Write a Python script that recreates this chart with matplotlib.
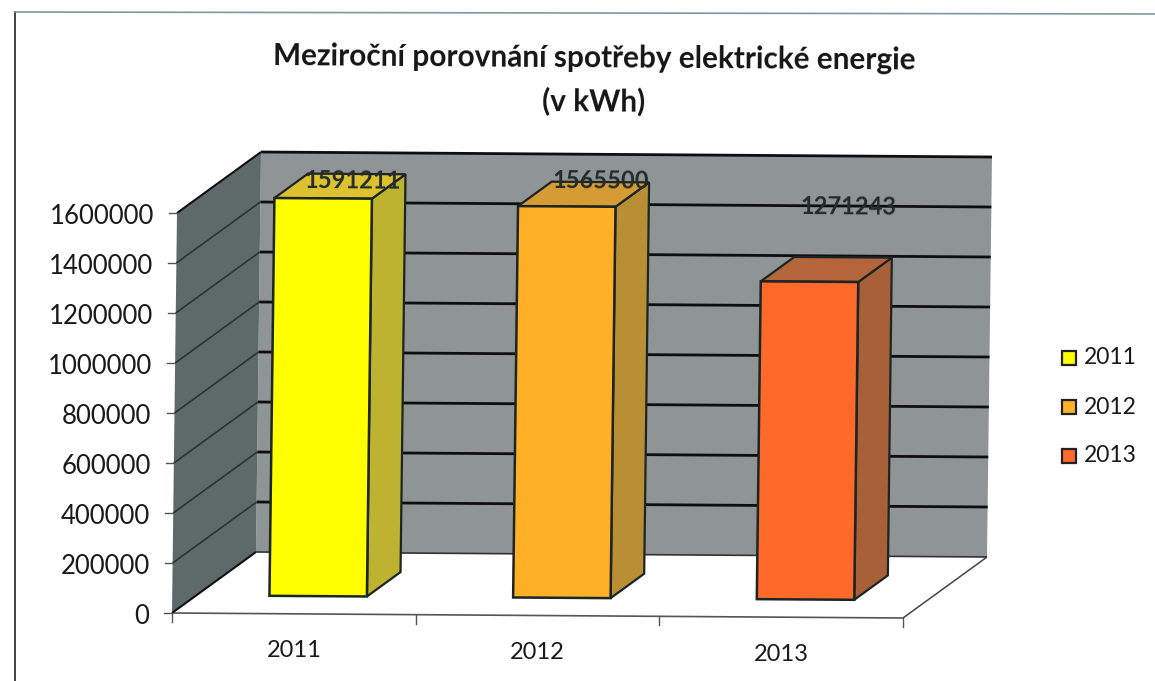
import numpy as np
import matplotlib
matplotlib.use('Agg')
import matplotlib.pyplot as plt
from matplotlib.patches import Polygon, Rectangle
from matplotlib.transforms import Affine2D, IdentityTransform

years = ['2011', '2012', '2013']
values = [1591211, 1565500, 1271243]
y_ticks = [0, 200000, 400000, 600000, 800000, 1000000, 1200000, 1400000, 1600000]
front_colors = ['#FFFF00', '#FFB027', '#FF6A2B']
side_colors = ['#BDB330', '#B98F35', '#A86039']
top_colors = ['#DCC22E', '#D49C32', '#B5653C']

title = 'Meziroční porovnání spotřeby elektrické energie\n(v kWh)'

W, H = 1155, 681
plt.rcParams['font.family'] = ['Lato', 'DejaVu Sans']

fig = plt.figure(figsize=(W / 100, H / 100), dpi=100)
ax = fig.add_axes([0, 0, 1, 1])
ax.set_xlim(0, W)
ax.set_ylim(0, H)
ax.axis('off')

# the scan is a bit skewed, so the chart plane is a general affine map
ymax = 1600000
T = Affine2D.from_values(731 / 3, -5 / 3, 5 / ymax, 400 / ymax, 172, H - 613)
depth = np.array([84, 61])
ident = IdentityTransform()


def pt(u, v, d=0):
    return T.transform((u, v)) + d * depth


def face(corners, **kw):
    ax.add_patch(Polygon([pt(*c) for c in corners], closed=True, transform=ident, **kw))


def seg(a, b, **kw):
    p, q = pt(*a), pt(*b)
    ax.plot([p[0], q[0]], [p[1], q[1]], transform=ident, solid_capstyle='butt', **kw)


# walls and floor
face([(0, 0, 1), (3, 0, 1), (3, ymax, 1), (0, ymax, 1)], fc='#8F9495', ec='none')
face([(0, 0, 0), (0, 0, 1), (0, ymax, 1), (0, ymax, 0)], fc='#5E6A6A', ec='none')
face([(0, 0, 0), (3, 0, 0), (3, 0, 1), (0, 0, 1)], fc='white', ec='none')

seg((0, 0, 0), (3, 0, 0), color='#555555', lw=1.2)
seg((3, 0, 0), (3, 0, 1), color='#444444', lw=1.1)
seg((0, 0, 0), (0, 0, 1), color='#111111', lw=1.5)
seg((0, 0, 1), (3, 0, 1), color='#333333', lw=1.2)
seg((0, ymax, 0), (0, ymax, 1), color='#111111', lw=1.5)

for v in y_ticks[1:]:
    seg((0, v, 1), (3, v, 1), color='#0E0E0E', lw=2)
    if v < ymax:
        seg((0, v, 0), (0, v, 1), color='#2A3434', lw=1.2)
    p = pt(0, v)
    ax.plot([p[0] - 8, p[0]], [p[1], p[1]], transform=ident, color='#555555', lw=1)
p = pt(0, 0)
ax.plot([p[0] - 8, p[0]], [p[1], p[1]], transform=ident, color='#555555', lw=1)

for u in range(4):
    p = pt(u, 0)
    ax.plot([p[0], p[0]], [p[1], p[1] - 9], transform=ident, color='#555555', lw=1)

# bars
xs = np.arange(3) + 0.5
bw = 0.4
d0, d1 = 0.29, 0.69
edge = '#1C2424'
T_front = T + Affine2D().translate(*(d0 * depth))
for i in range(3):
    l, r, v = xs[i] - bw / 2, xs[i] + bw / 2, values[i]
    face([(r, 0, d0), (r, 0, d1), (r, v, d1), (r, v, d0)], fc=side_colors[i], ec=edge, lw=1.6, zorder=4)
    face([(l, v, d0), (r, v, d0), (r, v, d1), (l, v, d1)], fc=top_colors[i], ec=edge, lw=1.6, zorder=4)
ax.bar(xs, values, bw, color=front_colors, edgecolor=edge, linewidth=1.8, transform=T_front, zorder=5)


def img_text(x, y, s, **kw):
    return ax.text(x, H - y, s, transform=ident, **kw)


# data labels sit where the original left them, not on a formula
label_pos = [(353, 181), (601, 181), (848, 207)]
for (x, y), v in zip(label_pos, values):
    img_text(x, y, str(v), ha='center', va='center', fontsize=17, fontweight='bold',
             color='#232C2C', rotation=-0.4, zorder=6)

for v in y_ticks:
    p = pt(0, v)
    ax.annotate(str(v), xy=p, xycoords=ident, xytext=(-23, -3), textcoords='offset pixels',
                ha='right', va='center', fontsize=18.5, color='#1A1A1A')

for u, y in zip(xs, years):
    p = pt(u, 0)
    ax.annotate(y, xy=p, xycoords=ident, xytext=(0, -37), textcoords='offset pixels',
                ha='center', va='center', fontsize=17, color='#1A1A1A')

img_text(594, 79.5, title, ha='center', va='center', fontsize=21.4, fontweight='bold',
         color='#151515', rotation=-0.4, linespacing=1.6)

# legend
leg_y = [358, 407, 456]
for y, c, name in zip(leg_y, front_colors, years):
    ax.add_patch(Rectangle((1062, H - y - 7), 14, 14, fc=c, ec='#222222', lw=1.6, transform=ident))
    img_text(1084, y, name, ha='left', va='center', fontsize=16.5, color='#1A1A1A')

# page frame of the scan
ax.plot([15, 15], [0, H - 12], color='#333333', lw=1.3, transform=ident)
ax.plot([15, W], [H - 12, H - 14], color='#7C98A2', lw=1.2, transform=ident)

fig.savefig('out.png', dpi=100)
